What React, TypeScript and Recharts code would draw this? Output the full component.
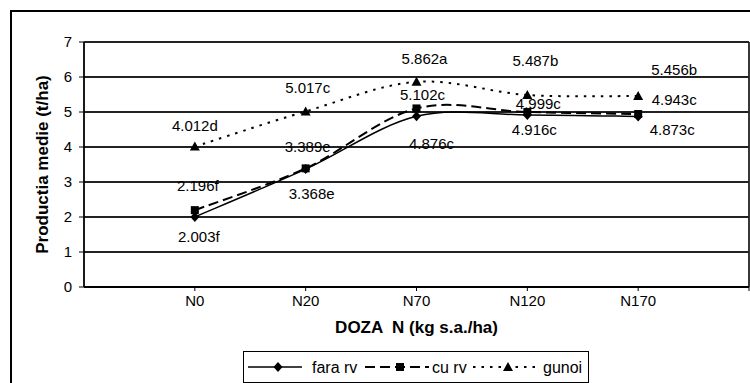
import { LineChart, Line, XAxis, YAxis, CartesianGrid, ReferenceLine } from "recharts";

const doses = ["N0", "N20", "N70", "N120", "N170"];
const faraRv = [2.003, 3.368, 4.876, 4.916, 4.873];
const cuRv = [2.196, 3.389, 5.102, 4.999, 4.943];
const gunoi = [4.012, 5.017, 5.862, 5.487, 5.456];
const faraRvLetters = ["f", "e", "c", "c", "c"];
const cuRvLetters = ["f", "e", "c", "c", "c"];
const gunoiLetters = ["d", "c", "a", "b", "b"];
const yTicks = [0, 1, 2, 3, 4, 5, 6, 7];

// label placement relative to each point (dx, dy)
const faraRvOffsets = [[4, 20], [6, 24], [15, 27], [7, 15], [34, 13]];
const cuRvOffsets = [[3, -25], [2, -22], [6, -14], [11, -9], [36, -14]];
const gunoiOffsets = [[0, -21], [2, -24], [8, -23], [8, -34], [36, -27]];

const data = doses.map((dose, i) => ({
  dose,
  pos: i + 1,
  faraRv: faraRv[i],
  cuRv: cuRv[i],
  gunoi: gunoi[i],
}));

const FONT = "'Liberation Sans', Arial, sans-serif";

// Excel style smoothed line (catmull-rom, tension 1/6)
const excelSmooth = (context: any) => {
  let pts: number[][] = [];
  return {
    areaStart() {},
    areaEnd() {},
    lineStart() {
      pts = [];
    },
    lineEnd() {
      if (!pts.length) return;
      context.moveTo(pts[0][0], pts[0][1]);
      for (let i = 0; i < pts.length - 1; i++) {
        const p0 = pts[Math.max(i - 1, 0)];
        const p1 = pts[i];
        const p2 = pts[i + 1];
        const p3 = pts[Math.min(i + 2, pts.length - 1)];
        context.bezierCurveTo(
          p1[0] + (p2[0] - p0[0]) / 6,
          p1[1] + (p2[1] - p0[1]) / 6,
          p2[0] - (p3[0] - p1[0]) / 6,
          p2[1] - (p3[1] - p1[1]) / 6,
          p2[0],
          p2[1]
        );
      }
    },
    point(x: number, y: number) {
      pts.push([x, y]);
    },
  };
};

const Diamond = ({ cx, cy }: { cx: number; cy: number }) => (
  <path d={`M${cx},${cy - 5}L${cx + 4.5},${cy}L${cx},${cy + 5}L${cx - 4.5},${cy}Z`} fill="#000" />
);
const Square = ({ cx, cy }: { cx: number; cy: number }) => (
  <rect x={cx - 4} y={cy - 4} width={8} height={8} fill="#000" />
);
const Triangle = ({ cx, cy }: { cx: number; cy: number }) => (
  <path d={`M${cx},${cy - 5}L${cx + 5},${cy + 4}L${cx - 5},${cy + 4}Z`} fill="#000" />
);

const makeLabel = (letters: string[], offsets: number[][]) => (props: any) => {
  const { x, y, index, value } = props;
  const [dx, dy] = offsets[index];
  return (
    <text
      key={`l-${index}`}
      x={x + dx}
      y={y + dy}
      textAnchor="middle"
      dominantBaseline="central"
      fontSize={15}
      fontFamily={FONT}
      fill="#000"
    >
      {`${Number(value).toFixed(3)}${letters[index]}`}
    </text>
  );
};

const LegendBox = () => (
  <svg
    width={346}
    height={32}
    style={{ position: "absolute", left: 243, top: 351 }}
    fontFamily={FONT}
  >
    <rect x={0.5} y={0.5} width={345} height={31} fill="#fff" stroke="#000" />
    <line x1={5} x2={59} y1={16} y2={16} stroke="#000" strokeWidth={1.5} />
    <Diamond cx={35} cy={16} />
    <text x={69} y={16} dominantBaseline="central" fontSize={16}>fara rv</text>
    <line x1={122} x2={186} y1={16} y2={16} stroke="#000" strokeWidth={2} strokeDasharray="10 5" />
    <Square cx={157} cy={16} />
    <text x={189} y={16} dominantBaseline="central" fontSize={16}>cu rv</text>
    <line x1={230} x2={296} y1={16} y2={16} stroke="#000" strokeWidth={2} strokeDasharray="2.5 6" />
    <Triangle cx={265} cy={16} />
    <text x={300} y={16} dominantBaseline="central" fontSize={16}>gunoi</text>
  </svg>
);

export default function App() {
  return (
    <div
      style={{
        position: "absolute",
        left: 0,
        top: 0,
        width: 750,
        height: 383,
        overflow: "hidden",
        background: "#fff",
      }}
    >
      <div
        style={{
          position: "absolute",
          left: 10,
          top: 10,
          width: 800,
          height: 400,
          border: "2px solid #000",
        }}
      />
      <div style={{ position: "absolute", left: 0, top: 0 }}>
        <LineChart
          width={750}
          height={383}
          data={data}
          margin={{ top: 42, right: 1, bottom: 56, left: 24 }}
          style={{ fontFamily: FONT }}
        >
          <CartesianGrid horizontal vertical={false} stroke="#222" strokeWidth={1.8} />
          <XAxis
            dataKey="pos"
            type="number"
            domain={[0, 6]}
            ticks={[1, 2, 3, 4, 5, 6]}
            interval={0}
            tickFormatter={(v: number) => doses[v - 1] ?? ""}
            height={40}
            tickSize={4}
            tickMargin={4}
            axisLine={{ stroke: "#000", strokeWidth: 1.8 }}
            tickLine={{ stroke: "#000" }}
            tick={{ fill: "#000", fontSize: 15 }}
            label={{
              content: ({ viewBox }: any) => (
                <text
                  x={viewBox.x + viewBox.width / 2}
                  y={327}
                  textAnchor="middle"
                  dominantBaseline="central"
                  fontSize={17}
                  fontWeight="bold"
                  fontFamily={FONT}
                  style={{ whiteSpace: "pre" }}
                >
                  {"DOZA  N (kg s.a./ha)"}
                </text>
              ),
            }}
          />
          <YAxis
            domain={[0, 7]}
            ticks={yTicks}
            interval={0}
            width={60}
            tickSize={5}
            tickMargin={7}
            axisLine={{ stroke: "#000", strokeWidth: 1.8 }}
            tickLine={{ stroke: "#000" }}
            tick={{ fill: "#000", fontSize: 15 }}
            label={{
              content: ({ viewBox }: any) => {
                const cx = 42;
                const cy = viewBox.y + viewBox.height / 2;
                return (
                  <text
                    x={cx}
                    y={cy}
                    transform={`rotate(-90 ${cx} ${cy})`}
                    textAnchor="middle"
                    dominantBaseline="central"
                    fontSize={17}
                    fontWeight="bold"
                    fontFamily={FONT}
                  >
                    Productia medie (t/ha)
                  </text>
                );
              },
            }}
          />
          <ReferenceLine x={6} stroke="#222" strokeWidth={1.8} />
          <Line
            dataKey="faraRv"
            type={excelSmooth as any}
            stroke="#000"
            strokeWidth={1.5}
            dot={(p: any) => <Diamond key={`fd-${p.index}`} cx={p.cx} cy={p.cy} />}
            label={makeLabel(faraRvLetters, faraRvOffsets)}
            isAnimationActive={false}
          />
          <Line
            dataKey="cuRv"
            type={excelSmooth as any}
            stroke="#000"
            strokeWidth={2}
            strokeDasharray="10 5"
            dot={(p: any) => <Square key={`cd-${p.index}`} cx={p.cx} cy={p.cy} />}
            label={makeLabel(cuRvLetters, cuRvOffsets)}
            isAnimationActive={false}
          />
          <Line
            dataKey="gunoi"
            type={excelSmooth as any}
            stroke="#000"
            strokeWidth={2}
            strokeDasharray="2.5 6"
            dot={(p: any) => <Triangle key={`gd-${p.index}`} cx={p.cx} cy={p.cy} />}
            label={makeLabel(gunoiLetters, gunoiOffsets)}
            isAnimationActive={false}
          />
        </LineChart>
      </div>
      <LegendBox />
    </div>
  );
}
